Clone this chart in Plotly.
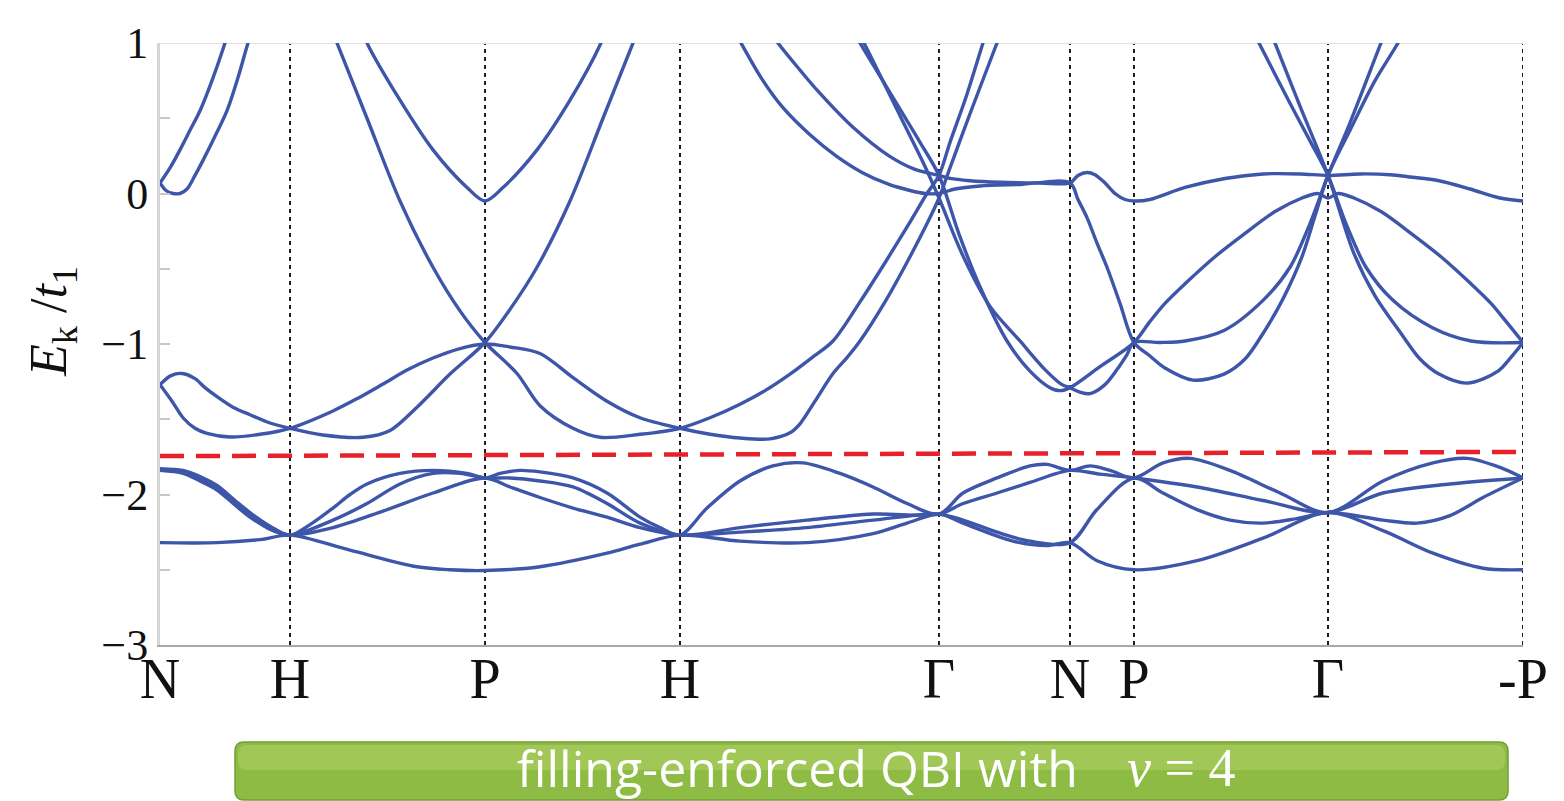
import plotly.graph_objects as go

# ---------------- data (k = path coordinate, E = E_k / t1) ----------------
SYM_K = [0.00, 1.30, 3.25, 5.20, 7.79, 9.10, 9.74, 11.68, 13.63]
SYM_LABELS = ["N", "H", "P", "H", "Γ", "N", "P", "Γ", "-P"]

FERMI_K = [0.00, 13.63]
FERMI_E = [-1.745, -1.717]

# upper group of bands
UB1_K = [0, 0.10, 0.20, 0.30, 0.40, 0.52, 0.65, 0.72]
UB1_E = [0.07, 0.17, 0.29, 0.42, 0.55, 0.75, 1.0, 1.15]

UB2_K = [0, 0.06, 0.13, 0.20, 0.27, 0.35, 0.43, 0.55, 0.67, 0.78, 0.88, 0.94]
UB2_E = [0.07, 0.02, 0.0, 0.0, 0.03, 0.12, 0.22, 0.38, 0.55, 0.77, 1.0, 1.12]

UB3_K = [0, 0.11, 0.22, 0.35, 0.45, 0.57, 0.73, 0.90, 1.10, 1.30,
         1.63, 2.03, 2.30, 2.57, 2.90, 3.25, 3.50, 3.77, 4.10, 4.43, 4.73, 4.80]
UB3_E = [-1.27, -1.21, -1.196, -1.23, -1.29, -1.35, -1.42, -1.47, -1.525, -1.56,
         -1.605, -1.62, -1.575, -1.42, -1.2, -0.99, -0.77, -0.49, -0.05, 0.5, 1.0, 1.12]

UB4_K = [0, 0.12, 0.23, 0.35, 0.47, 0.70, 1.00, 1.30,
         1.73, 1.98, 2.23, 2.48, 2.73, 3.00, 3.25, 3.50, 3.80, 4.13, 4.47, 4.80, 5.20,
         5.50, 5.80, 6.10, 6.30, 6.40, 6.55, 6.73, 6.87, 7.00, 7.25, 7.50, 7.70, 7.79,
         7.90, 8.10, 8.37, 8.45]
UB4_E = [-1.27, -1.38, -1.49, -1.56, -1.594, -1.618, -1.60, -1.56,
         -1.445, -1.36, -1.266, -1.17, -1.093, -1.03, -1.0, -1.02, -1.063, -1.223, -1.38, -1.49, -1.56,
         -1.60, -1.625, -1.63, -1.59, -1.53, -1.38, -1.196, -1.09, -0.98, -0.72, -0.42, -0.16, -0.03,
         0.17, 0.53, 1.0, 1.14]

UB5_K = [1.70, 1.77, 2.07, 2.40, 2.73, 3.00, 3.25, 3.57, 3.80, 4.13, 4.40, 4.80, 5.20,
         5.50, 5.80, 6.05, 6.30, 6.52, 6.73, 7.00, 7.25, 7.50, 7.67, 7.79,
         7.90, 8.07, 8.23, 8.30]
UB5_E = [1.12, 1.0, 0.5, -0.05, -0.49, -0.78, -0.99, -1.196, -1.41, -1.56, -1.62, -1.6, -1.56,
         -1.49, -1.40, -1.31, -1.2, -1.09, -0.98, -0.72, -0.46, -0.19, 0.0, 0.12,
         0.34, 0.66, 1.0, 1.14]

UB6_K = [2.00, 2.07, 2.40, 2.73, 3.07, 3.25, 3.43, 3.77, 4.10, 4.41, 4.48]
UB6_E = [1.12, 1.0, 0.62, 0.29, 0.04, -0.05, 0.04, 0.29, 0.62, 1.0, 1.12]

UB7_K = [5.73, 5.81, 6.02, 6.23, 6.50, 6.76, 7.02, 7.29, 7.50, 7.65, 7.79,
         7.95, 8.20, 8.60, 9.10,
         9.18, 9.27, 9.37, 9.47, 9.60, 9.74,
         9.90, 10.05, 10.33, 10.64, 10.85, 11.03, 11.23, 11.42, 11.55, 11.68,
         11.90, 12.15, 12.38, 12.48]
UB7_E = [1.1, 1.0, 0.76, 0.57, 0.39, 0.25, 0.14, 0.06, 0.02, 0.0, 0.0,
         0.03, 0.05, 0.06, 0.07,
         -0.04, -0.16, -0.33, -0.49, -0.73, -0.99,
         -1.08, -1.16, -1.24, -1.2, -1.1, -0.93, -0.7, -0.42, -0.15, 0.12,
         0.42, 0.75, 1.0, 1.13]

UB8_K = [6.10, 6.18, 6.40, 6.58, 6.93, 7.29, 7.55, 7.79,
         7.90, 8.10, 8.40, 8.80, 9.10, 9.18, 9.27, 9.35, 9.45, 9.55, 9.65, 9.74,
         9.90, 10.25, 10.65, 11.03, 11.40, 11.68, 12.00, 12.30, 12.50, 12.79, 13.10, 13.40, 13.63]
UB8_E = [1.08, 1.0, 0.82, 0.68, 0.44, 0.25, 0.16, 0.12,
         0.10, 0.085, 0.075, 0.07, 0.07, 0.12, 0.14, 0.125, 0.07, 0.0, -0.04, -0.05,
         -0.04, 0.04, 0.10, 0.13, 0.13, 0.12, 0.13, 0.125, 0.11, 0.085, 0.03, -0.03, -0.05]

UB9_K = [6.92, 7.00, 7.20, 7.40, 7.60, 7.79,
         7.99, 8.20, 8.47, 8.70, 8.90, 9.00, 9.10, 9.40, 9.74,
         9.90, 10.05, 10.25, 10.55, 10.84, 11.15, 11.42, 11.58, 11.68, 11.78, 11.94,
         12.21, 12.52, 12.81, 13.11, 13.31, 13.46, 13.63]
UB9_E = [1.1, 1.0, 0.78, 0.56, 0.34, 0.12,
         -0.27, -0.62, -0.98, -1.18, -1.29, -1.31, -1.29, -1.15, -0.99,
         -0.85, -0.73, -0.6, -0.42, -0.27, -0.12, -0.03, 0.0, -0.03, 0.0, -0.03,
         -0.12, -0.27, -0.42, -0.6, -0.73, -0.85, -0.99]

UB10_K = [6.96, 7.04, 7.25, 7.45, 7.65, 7.79,
          8.02, 8.30, 8.60, 8.85, 9.02, 9.10, 9.20, 9.30, 9.45, 9.57, 9.67, 9.74,
          10.00, 10.25, 10.64, 11.03, 11.30, 11.50, 11.68, 11.90, 12.21, 12.30]
UB10_E = [1.1, 1.0, 0.72, 0.45, 0.18, -0.03,
          -0.40, -0.75, -0.98, -1.17, -1.27, -1.29, -1.32, -1.33, -1.27, -1.17, -1.07, -0.99,
          -0.99, -0.98, -0.91, -0.71, -0.49, -0.2, 0.12, 0.47, 1.0, 1.15]

UB11_K = [10.90, 10.99, 11.30, 11.50, 11.68, 11.86, 12.06, 12.33, 12.72, 13.11, 13.63]
UB11_E = [1.12, 1.0, 0.6, 0.35, 0.12, -0.2, -0.49, -0.71, -0.89, -0.98, -0.99]

UB12_K = [11.06, 11.15, 11.40, 11.68, 11.94, 12.15, 12.40, 12.60, 12.79, 13.07, 13.38, 13.52, 13.63]
UB12_E = [1.15, 1.0, 0.58, 0.12, -0.40, -0.68, -0.92, -1.1, -1.2, -1.26, -1.18, -1.08, -0.99]

# lower group of bands (below the gap)
LB1_K = [0, 0.23, 0.40, 0.57, 0.75, 0.90, 1.10, 1.30,
         1.50, 1.73, 1.90, 2.07, 2.40, 2.73, 3.07, 3.25,
         3.40, 3.60, 3.80, 4.13, 4.47, 4.80, 5.00, 5.20,
         5.47, 5.80, 6.13, 6.43, 6.80, 7.13, 7.47, 7.79,
         8.03, 8.37, 8.70, 8.87, 9.10,
         9.30, 9.50, 9.74,
         10.03, 10.30, 10.70, 11.20, 11.68,
         12.23, 12.73, 13.07, 13.40, 13.63]
LB1_E = [-1.83, -1.84, -1.88, -1.94, -2.04, -2.12, -2.21, -2.27,
         -2.2, -2.09, -2.0, -1.93, -1.86, -1.84, -1.86, -1.89,
         -1.86, -1.84, -1.85, -1.89, -1.99, -2.15, -2.22, -2.27,
         -2.09, -1.91, -1.81, -1.79, -1.86, -1.95, -2.06, -2.13,
         -1.99, -1.89, -1.81, -1.80, -1.84,
         -1.81, -1.84, -1.89,
         -1.79, -1.76, -1.84, -1.99, -2.12,
         -1.91, -1.79, -1.76, -1.82, -1.89]

LB2_K = [0, 0.23, 0.40, 0.57, 0.75, 0.90, 1.10, 1.30,
         1.73, 2.07, 2.40, 2.73, 3.00, 3.25,
         3.50, 3.80, 4.13, 4.47, 4.80, 5.20,
         5.80, 6.47, 7.13, 7.79,
         8.03, 8.37, 8.70, 9.10,
         9.40, 9.74,
         10.37, 11.03, 11.68,
         12.23, 12.90, 13.63]
LB2_E = [-1.83, -1.85, -1.9, -1.96, -2.06, -2.14, -2.23, -2.27,
         -2.17, -2.06, -1.93, -1.86, -1.86, -1.89,
         -1.89, -1.91, -1.95, -2.06, -2.19, -2.27,
         -2.22, -2.17, -2.13, -2.13,
         -2.06, -1.99, -1.92, -1.84,
         -1.865, -1.89,
         -1.95, -2.04, -2.12,
         -1.99, -1.93, -1.89]

LB3_K = [0, 0.23, 0.40, 0.57, 0.75, 0.90, 1.10, 1.30,
         1.73, 2.23, 2.73, 3.25,
         3.50, 3.80, 4.13, 4.47, 4.80, 5.20,
         5.80, 6.47, 7.13, 7.79,
         8.03, 8.37, 8.70, 9.10,
         9.37, 9.74,
         10.03, 10.37, 10.70, 11.03, 11.37, 11.68,
         12.23, 12.57, 12.90, 13.23, 13.63]
LB3_E = [-1.84, -1.86, -1.91, -1.97, -2.07, -2.15, -2.23, -2.27,
         -2.22, -2.11, -1.99, -1.89,
         -1.95, -2.02, -2.09, -2.15, -2.22, -2.27,
         -2.25, -2.22, -2.17, -2.13,
         -2.17, -2.25, -2.31, -2.32,
         -2.1, -1.89,
         -1.99, -2.1, -2.17, -2.19, -2.16, -2.12,
         -2.17, -2.19, -2.14, -2.02, -1.89]

LB4_K = [0, 0.57, 1.00, 1.30,
         1.90, 2.57, 2.90, 3.25,
         3.80, 4.47, 4.80, 5.20,
         5.80, 6.47, 7.13, 7.47, 7.79,
         8.03, 8.53, 8.87, 9.10,
         9.37, 9.74,
         10.37, 11.03, 11.68,
         12.23, 12.73, 13.23, 13.63]
LB4_E = [-2.32, -2.32, -2.30, -2.27,
         -2.37, -2.48, -2.5, -2.505,
         -2.48, -2.39, -2.33, -2.27,
         -2.31, -2.32, -2.26, -2.19, -2.13,
         -2.19, -2.31, -2.34, -2.32,
         -2.44, -2.5,
         -2.44, -2.29, -2.12,
         -2.24, -2.39, -2.49, -2.5]

Y_TICKS = [1, 0.5, 0, -0.5, -1, -1.5, -2, -2.5, -3]
Y_TICKTEXT = ["1", " ", "0", " ", "−1", " ", "−2", " ", "−3"]

BANNER_TEXT = "filling-enforced QBI with"
BANNER_MATH = "<i>ν</i>\u00a0=\u00a04"

BANDS = [(UB1_K, UB1_E), (UB2_K, UB2_E), (UB3_K, UB3_E), (UB4_K, UB4_E),
         (UB5_K, UB5_E), (UB6_K, UB6_E), (UB7_K, UB7_E), (UB8_K, UB8_E),
         (UB9_K, UB9_E), (UB10_K, UB10_E), (UB11_K, UB11_E), (UB12_K, UB12_E),
         (LB1_K, LB1_E), (LB2_K, LB2_E), (LB3_K, LB3_E), (LB4_K, LB4_E)]

BLUE = "#3d56a9"

# page body has an 8px margin -> figure is shifted by 8px; compensate
FIG_W, FIG_H = 1556, 793
ML, MR, MT, MB = 152, 41, 35, 156
PW = FIG_W - ML - MR          # plot width in px
PH = FIG_H - MT - MB          # plot height in px
OFF = 8                        # body margin


def px_x(p):   # screen px -> paper x
    return (p - OFF - ML) / PW


def px_y(p):   # screen px -> paper y
    return (FIG_H - MB - (p - OFF)) / PH


# ---------------- figure ----------------
fig = go.Figure()

for bk, be in BANDS:
    fig.add_trace(go.Scatter(x=bk, y=be, mode="lines",
                             line=dict(color=BLUE, width=3.4, shape="spline", smoothing=0.9),
                             hoverinfo="skip", showlegend=False))

fig.add_trace(go.Scatter(x=FERMI_K, y=FERMI_E, mode="lines",
                         line=dict(color="#e8202a", width=4.5, dash="24px,12px"),
                         hoverinfo="skip", showlegend=False))

shapes = []
for k in SYM_K[1:]:
    shapes.append(dict(type="line", xref="x", yref="y", x0=k, x1=k, y0=-3, y1=1,
                       line=dict(color="#1e1e1e", width=2, dash="4px,4px"), layer="below"))
# top frame line
shapes.append(dict(type="line", xref="x", yref="y", x0=0, x1=SYM_K[-1], y0=1, y1=1,
                   line=dict(color="#e2e2e2", width=2), layer="below"))

# green banner
x0, x1 = px_x(235), px_x(1508)
yt, yb = px_y(742), px_y(800)
rx, ry = 9 / PW, 9 / PH


def rpath(xa, xb, ya, yb_, rx_, ry_):
    return (f"M {xa+rx_},{ya} L {xb-rx_},{ya} Q {xb},{ya} {xb},{ya-ry_} "
            f"L {xb},{yb_+ry_} Q {xb},{yb_} {xb-rx_},{yb_} L {xa+rx_},{yb_} "
            f"Q {xa},{yb_} {xa},{yb_+ry_} L {xa},{ya-ry_} Q {xa},{ya} {xa+rx_},{ya} Z")


shapes.append(dict(type="path", xref="paper", yref="paper", path=rpath(x0, x1, yt, yb, rx, ry),
                   fillcolor="#8dbb44", line=dict(color="#729f34", width=1.5), layer="below"))
shapes.append(dict(type="path", xref="paper", yref="paper",
                   path=rpath(x0 + 3 / PW, x1 - 3 / PW, yt - 3 / PH, px_y(770), rx, ry),
                   fillcolor="#a6cc5c", line=dict(width=0), opacity=0.8, layer="below"))

fig.update_layout(
    width=FIG_W, height=FIG_H, autosize=False,
    margin=dict(l=ML, r=MR, t=MT, b=MB, pad=0),
    paper_bgcolor="white", plot_bgcolor="rgba(0,0,0,0)",
    shapes=shapes,
    xaxis=dict(range=[0, SYM_K[-1]], showgrid=False, zeroline=False,
               showline=True, linecolor="#a8a8a8", linewidth=2,
               tickvals=SYM_K, ticktext=SYM_LABELS, ticks="",
               ticklabelstandoff=-16,
               tickfont=dict(family="Liberation Serif", size=56, color="#111")),
    yaxis=dict(range=[-3, 1], showgrid=False, zeroline=False,
               showline=True, linecolor="#d6d6d6", linewidth=3,
               tickvals=Y_TICKS, ticktext=Y_TICKTEXT, ticks="inside", ticklen=10,
               tickcolor="#c8c8c8", tickwidth=2,
               tickfont=dict(family="Liberation Serif", size=44, color="#111")),
    annotations=[
        dict(xref="paper", yref="paper", x=px_x(52), y=px_y(322),
             xanchor="center", yanchor="middle",
             text="<i>E</i><sub>k</sub> /<i>t</i><sub>1</sub>", textangle=-90, showarrow=False,
             font=dict(family="Liberation Serif", size=52, color="#111")),
        dict(xref="paper", yref="paper", x=px_x(1080), y=px_y(768),
             xanchor="right", yanchor="middle",
             text=BANNER_TEXT, showarrow=False,
             font=dict(family="Open Sans", size=50, color="white")),
        dict(xref="paper", yref="paper", x=px_x(1125), y=px_y(768),
             xanchor="left", yanchor="middle",
             text=BANNER_MATH, showarrow=False,
             font=dict(family="Liberation Serif", size=54, color="white")),
    ],
)

fig.write_html("out.html")
